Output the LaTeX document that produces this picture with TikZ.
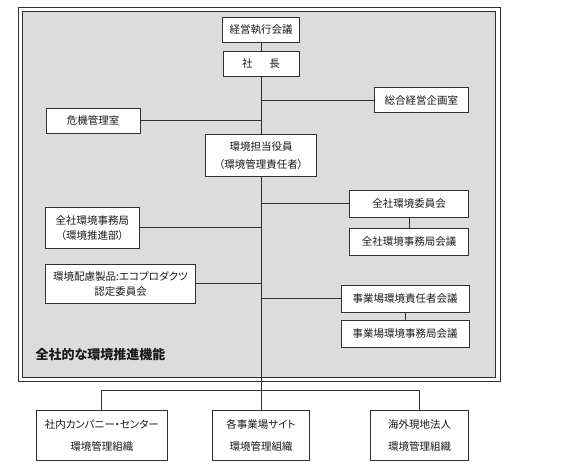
\documentclass[tikz,border=0pt]{standalone}
\usepackage{fontspec}
\setmainfont{Noto Sans CJK JP}[RawFeature=+palt]
\definecolor{lc}{HTML}{303030}
\definecolor{bg}{HTML}{DCDCDC}
\definecolor{txt}{HTML}{1A1A1A}
\begin{document}
\begin{tikzpicture}[x=1pt,y=-1pt,
  box/.style={draw=lc, fill=white, line width=0.8pt, inner sep=0pt, align=center,
    font=\fontsize{10.5}{12.5}\selectfont, text=txt},
  conn/.style={draw=lc, line width=0.8pt}]
\useasboundingbox (0,0) rectangle (580,470);
\fill[white] (0,0) rectangle (580,470);
\draw[lc, line width=0.8pt] (18.3,7.3) rectangle (500,381);
\draw[lc, line width=0.8pt, fill=bg] (22,11) rectangle (495.7,377.3);

\node[box, minimum width=76.3pt, minimum height=25pt] (exec) at (261,29.8) {経営執行会議};
\node[box, minimum width=76pt, minimum height=24.6pt] (pres) at (261,64) {社\hspace{1.6em}長};
\node[box, minimum width=94pt, minimum height=25pt] (plan) at (421.3,100.2) {総合経営企画室};
\node[box, minimum width=93.7pt, minimum height=25pt] (crisis) at (93.2,120.8) {危機管理室};
\node[box, minimum width=110.7pt, minimum height=41.7pt] (envexec) at (261,155.2) {環境担当役員\\[5.5pt]（環境管理責任者）};
\node[box, minimum width=119.3pt, minimum height=27pt] (comm) at (409,203.8) {全社環境委員会};
\node[box, minimum width=119pt, minimum height=27pt] (commsec) at (409,241.8) {全社環境事務局会議};
\node[box, minimum width=94pt, minimum height=41pt] (office) at (92.3,227.8) {全社環境事務局\\[2.5pt]（環境推進部）};
\node[box, minimum width=150.4pt, minimum height=39pt] (eco) at (120.5,283.8) {環境配慮製品:エコプロダクツ\\[3pt]認定委員会};
\node[box, minimum width=128pt, minimum height=27pt] (site) at (405,298.8) {事業場環境責任者会議};
\node[box, minimum width=128pt, minimum height=26.7pt] (sitesec) at (405,333.7) {事業場環境事務局会議};
\node[anchor=west, inner sep=0pt, text=txt, font=\fontsize{13}{15}\selectfont\bfseries] (lbl) at (35.5,354.3) {全社的な環境推進機能};

\node[box, minimum width=131pt, minimum height=50.4pt] (b1) at (101.8,435.5) {社内カンパニー・センター\\[9.5pt]環境管理組織};
\node[box, minimum width=97.3pt, minimum height=50.4pt] (b2) at (261,435.5) {各事業場サイト\\[9.5pt]環境管理組織};
\node[box, minimum width=97.6pt, minimum height=50.4pt] (b3) at (419.5,435.5) {海外現地法人\\[9.5pt]環境管理組織};

\draw[conn] (exec) -- (pres);
\draw[conn] (pres.south) -- (envexec.north);
\draw[conn] (plan.west) -- (plan.west -| pres.south);
\draw[conn] (crisis.east) -- (crisis.east -| pres.south);
\draw[conn] (envexec.south) -- (b2.north);
\draw[conn] (comm.west) -- (comm.west -| envexec.south);
\draw[conn] (office.east) -- (office.east -| envexec.south);
\draw[conn] (eco.east) -- (eco.east -| envexec.south);
\draw[conn] (site.west) -- (site.west -| envexec.south);
\draw[conn] (comm) -- (commsec);
\draw[conn] (site) -- (sitesec);
\draw[conn] (b1.north) -- ++(0,-20) -| (b3.north);
\end{tikzpicture}
\end{document}
